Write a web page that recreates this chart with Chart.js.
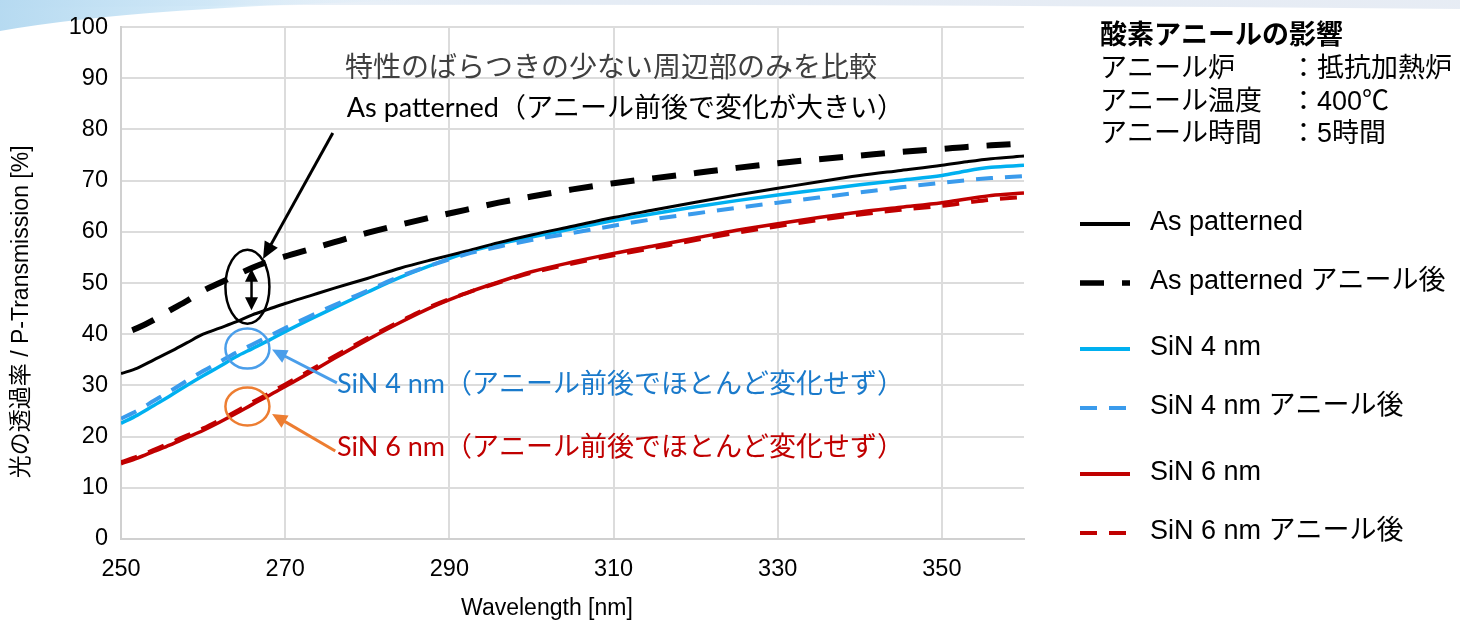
<!DOCTYPE html>
<html lang="ja">
<head>
<meta charset="utf-8">
<title>酸素アニールの影響</title>
<script src="https://cdn.jsdelivr.net/npm/chart.js@4.4.1/dist/chart.umd.min.js"></script>
<style>
  html, body { margin: 0; padding: 0; background: #ffffff; }
  #wrap { position: relative; width: 1460px; height: 633px; }
</style>
</head>
<body>
<div id="wrap"><canvas id="chart"></canvas></div>
<script>
// Wavelength grid (nm) shared by every series
const wavelengths = [250, 252, 254, 256, 258, 260, 262, 264, 266, 268, 270, 273, 276, 280, 284, 288,
                     292, 296, 300, 305, 310, 315, 320, 325, 330, 335, 340, 345, 350, 353, 356, 360];

// P-transmission (%) per sample
const asPatterned         = [32.3, 33.4, 35.0, 36.6, 38.3, 40.0, 41.2, 42.4, 43.8, 44.9, 46.0, 47.5, 49.0, 50.9, 52.9, 54.6,
                             56.2, 57.9, 59.4, 61.1, 62.8, 64.3, 65.8, 67.2, 68.5, 69.8, 71.0, 72.0, 73.0, 73.7, 74.3, 74.8];
const asPatternedAnnealed = [40.0, 41.2, 42.8, 44.7, 46.5, 48.5, 50.0, 51.5, 53.0, 54.2, 55.2, 56.6, 58.0, 59.8, 61.4, 62.9,
                             64.3, 65.7, 66.9, 68.3, 69.5, 70.5, 71.5, 72.5, 73.4, 74.2, 74.9, 75.6, 76.2, 76.6, 76.9, 77.3];
const sin4                = [22.6, 24.2, 26.1, 28.0, 30.0, 31.9, 33.7, 35.6, 37.2, 38.8, 40.5, 42.9, 45.2, 48.2, 51.1, 53.6,
                             55.9, 57.6, 59.0, 60.6, 62.2, 63.6, 64.9, 66.1, 67.2, 68.2, 69.2, 70.1, 71.0, 71.9, 72.6, 73.0];
const sin4Annealed        = [23.5, 25.1, 27.0, 28.9, 30.9, 32.8, 34.6, 36.4, 38.0, 39.6, 41.2, 43.5, 45.7, 48.5, 51.3, 53.6,
                             55.6, 57.1, 58.4, 59.8, 61.2, 62.5, 63.6, 64.7, 65.7, 66.7, 67.7, 68.7, 69.6, 70.1, 70.5, 70.9];
const sin6                = [14.7, 15.8, 17.1, 18.4, 19.8, 21.2, 22.8, 24.5, 26.3, 28.0, 29.8, 32.5, 35.3, 38.9, 42.3, 45.4,
                             48.0, 50.2, 52.2, 54.1, 55.8, 57.3, 58.8, 60.3, 61.6, 62.8, 63.9, 64.8, 65.7, 66.4, 67.1, 67.6];
const sin6Annealed        = [15.0, 16.1, 17.4, 18.8, 20.2, 21.6, 23.2, 24.9, 26.7, 28.4, 30.2, 32.9, 35.7, 39.2, 42.5, 45.6,
                             48.0, 50.1, 52.0, 53.8, 55.4, 56.9, 58.4, 59.8, 61.1, 62.3, 63.4, 64.3, 65.1, 65.7, 66.3, 66.8];

const seriesLabels = ['As patterned', 'As patterned アニール後', 'SiN 4 nm', 'SiN 4 nm アニール後', 'SiN 6 nm', 'SiN 6 nm アニール後'];

// Axis tick values
const xTickValues = [250, 270, 290, 310, 330, 350];
const yTickValues = [0, 10, 20, 30, 40, 50, 60, 70, 80, 90, 100];

// Condition box text
const infoTitle = '酸素アニールの影響';
const infoLabels = ['アニール炉', 'アニール温度', 'アニール時間'];
const infoValues = ['：抵抗加熱炉', '：400℃', '：5時間'];

// Callout text
const noteCompare = '特性のばらつきの少ない周辺部のみを比較';
const noteAsPatterned = 'As patterned（アニール前後で変化が大きい）';
const noteSin4 = 'SiN 4 nm（アニール前後でほとんど変化せず）';
const noteSin6 = 'SiN 6 nm（アニール前後でほとんど変化せず）';

const SANS = '"Liberation Sans", Arial, "Noto Sans CJK JP", sans-serif';
const NOTE = 'Lato, "Noto Sans CJK JP", sans-serif';

function series(label, values, color, width, dash, order, dashOffset) {
  return {
    label,
    data: wavelengths.map((x, i) => ({ x, y: values[i] })),
    borderColor: color,
    backgroundColor: color,
    borderWidth: width,
    borderDash: dash,
    borderDashOffset: dashOffset || 0,
    pointRadius: 0,
    pointHoverRadius: 0,
    cubicInterpolationMode: 'monotone',
    fill: false,
    order
  };
}

const datasets = [
  series(seriesLabels[0], asPatterned, '#000000', 3, [], 1),
  series(seriesLabels[1], asPatternedAnnealed, '#000000', 6, [24, 18], 0, 30),
  series(seriesLabels[2], sin4, '#00B0F0', 3.5, [], 1),
  series(seriesLabels[3], sin4Annealed, '#3A9BEC', 4, [17, 12], 0),
  series(seriesLabels[4], sin6, '#C00000', 3.5, [], 1),
  series(seriesLabels[5], sin6Annealed, '#C00000', 4, [17, 12], 0)
];

// Light header swoosh behind everything
const backdrop = {
  id: 'backdrop',
  beforeDraw(chart) {
    const { ctx, width } = chart;
    ctx.save();
    ctx.fillStyle = '#ffffff';
    ctx.fillRect(0, 0, width, chart.height);
    const band = ctx.createLinearGradient(0, 0, width, 0);
    band.addColorStop(0, 'rgba(214,230,244,0.2)');
    band.addColorStop(0.35, 'rgba(226,234,244,0.9)');
    band.addColorStop(1, 'rgba(228,234,243,0.9)');
    ctx.fillStyle = band;
    ctx.beginPath();
    ctx.moveTo(0, 0);
    ctx.lineTo(width, 0);
    ctx.lineTo(width, 9);
    ctx.quadraticCurveTo(900, 4, 300, 5);
    ctx.lineTo(0, 8);
    ctx.closePath();
    ctx.fill();
    const blue = ctx.createLinearGradient(0, 0, 420, 0);
    blue.addColorStop(0, 'rgba(178,216,240,0.95)');
    blue.addColorStop(0.5, 'rgba(200,228,246,0.8)');
    blue.addColorStop(1, 'rgba(225,238,248,0)');
    ctx.fillStyle = blue;
    ctx.beginPath();
    ctx.moveTo(0, 0);
    ctx.lineTo(440, 0);
    ctx.quadraticCurveTo(140, 6, 0, 31);
    ctx.closePath();
    ctx.fill();
    ctx.restore();
  }
};

function arrowHead(ctx, x0, y0, x1, y1, len, half) {
  const a = Math.atan2(y1 - y0, x1 - x0);
  ctx.beginPath();
  ctx.moveTo(x1, y1);
  ctx.lineTo(x1 - len * Math.cos(a) + half * Math.sin(a), y1 - len * Math.sin(a) - half * Math.cos(a));
  ctx.lineTo(x1 - len * Math.cos(a) - half * Math.sin(a), y1 - len * Math.sin(a) + half * Math.cos(a));
  ctx.closePath();
  ctx.fill();
}

function arrow(ctx, x0, y0, x1, y1, color, width, len, half) {
  const a = Math.atan2(y1 - y0, x1 - x0);
  ctx.strokeStyle = color;
  ctx.fillStyle = color;
  ctx.lineWidth = width;
  ctx.beginPath();
  ctx.moveTo(x0, y0);
  ctx.lineTo(x1 - (len - 2) * Math.cos(a), y1 - (len - 2) * Math.sin(a));
  ctx.stroke();
  arrowHead(ctx, x0, y0, x1, y1, len, half);
}

// Callouts: ellipses, arrows and notes anchored in data units
const callouts = {
  id: 'callouts',
  afterDatasetsDraw(chart) {
    const { ctx } = chart;
    const sx = chart.scales.x, sy = chart.scales.y;
    const px = v => sx.getPixelForValue(v);
    const py = v => sy.getPixelForValue(v);
    ctx.save();

    const rings = [
      { x: 265.4, y: 49.3, rx: 22, ry: 37, color: '#000000' },
      { x: 265.4, y: 37.2, rx: 22, ry: 20, color: '#4A9EEA' },
      { x: 265.4, y: 25.9, rx: 22, ry: 19, color: '#ED7D31' }
    ];
    rings.forEach(r => {
      ctx.strokeStyle = r.color;
      ctx.lineWidth = 2.5;
      ctx.beginPath();
      ctx.ellipse(px(r.x), py(r.y), r.rx, r.ry, 0, 0, Math.PI * 2);
      ctx.stroke();
    });

    // gap marker between the two As patterned curves
    const gx = px(265.9), gTop = py(52.8), gBot = py(44.7);
    ctx.strokeStyle = '#000000';
    ctx.fillStyle = '#000000';
    ctx.lineWidth = 2.5;
    ctx.beginPath();
    ctx.moveTo(gx, gTop + 10);
    ctx.lineTo(gx, gBot - 10);
    ctx.stroke();
    arrowHead(ctx, gx, gBot, gx, gTop, 13, 6.5);
    arrowHead(ctx, gx, gTop, gx, gBot, 13, 6.5);

    arrow(ctx, px(275.8), py(79.3), px(267.3), py(54.7), '#000000', 3, 17, 7.5);
    arrow(ctx, px(276.3), py(30.5), px(268.4), py(37.0), '#4A9EEA', 3, 15, 7);
    arrow(ctx, px(276.1), py(17.2), px(268.4), py(24.4), '#ED7D31', 3, 15, 7);

    ctx.textBaseline = 'middle';
    ctx.textAlign = 'left';
    ctx.font = '28px ' + NOTE;
    ctx.fillStyle = '#404040';
    ctx.fillText(noteCompare, px(277.3), py(92.0));
    ctx.font = '27px ' + NOTE;
    ctx.fillStyle = '#000000';
    ctx.fillText(noteAsPatterned, px(277.5), py(84.1));
    ctx.fillStyle = '#1A7ACB';
    ctx.fillText(noteSin4, px(276.3), py(30.2));
    ctx.fillStyle = '#C00000';
    ctx.fillText(noteSin6, px(276.3), py(18.0));
    ctx.restore();
  }
};

// Condition box and series key to the right of the plot
const sidePanel = {
  id: 'sidePanel',
  afterDraw(chart) {
    const { ctx, chartArea } = chart;
    const left = chartArea.right + 76;
    ctx.save();
    ctx.textBaseline = 'middle';
    ctx.textAlign = 'left';
    ctx.fillStyle = '#000000';
    ctx.font = 'bold 27px ' + SANS;
    ctx.fillText(infoTitle, left, 37);
    ctx.font = '27px ' + SANS;
    infoLabels.forEach((t, i) => {
      const y = 70 + i * 32.5;
      ctx.fillText(t, left, y);
      ctx.fillText(infoValues[i], left + 190, y);
    });

    const keyLeft = chartArea.right + 56;
    chart.data.datasets.forEach((ds, i) => {
      const y = 223 + i * 59 + Math.floor(i / 2) * 7;
      ctx.strokeStyle = ds.borderColor;
      ctx.lineWidth = Math.min(Math.max(ds.borderWidth, 4), 5.5);
      ctx.setLineDash(ds.borderDash || []);
      ctx.lineDashOffset = 0;
      ctx.beginPath();
      ctx.moveTo(keyLeft, y + 1);
      ctx.lineTo(keyLeft + 50, y + 1);
      ctx.stroke();
      ctx.setLineDash([]);
      ctx.fillStyle = '#000000';
      ctx.font = '27px ' + SANS;
      ctx.fillText(ds.label, keyLeft + 70, y);
    });
    ctx.restore();
  }
};

new Chart(document.getElementById('chart'), {
  type: 'line',
  data: { datasets },
  plugins: [backdrop, callouts, sidePanel],
  options: {
    responsive: true,
    maintainAspectRatio: false,
    animation: false,
    events: [],
    layout: { padding: { left: 0, top: 23, right: 436, bottom: 0 } },
    plugins: {
      legend: { display: false },
      tooltip: { enabled: false },
      title: { display: false }
    },
    scales: {
      x: {
        type: 'linear',
        min: 250,
        max: 360,
        afterBuildTicks: s => { s.ticks = xTickValues.map(value => ({ value })); },
        afterFit: s => { s.height = 94; },
        grid: { color: '#dcdcdc', lineWidth: 2, drawTicks: false },
        border: { display: true, color: '#d0d0d0', width: 2 },
        ticks: { color: '#000000', font: { family: SANS, size: 23.5 }, padding: 16, maxRotation: 0 },
        title: {
          display: true,
          text: 'Wavelength [nm]' + '\u00a0'.repeat(8),
          color: '#000000',
          font: { family: SANS, size: 23 },
          padding: { top: 0, bottom: 11 }
        }
      },
      y: {
        type: 'linear',
        min: 0,
        max: 100,
        afterBuildTicks: s => { s.ticks = yTickValues.map(value => ({ value })); },
        afterFit: s => { s.width = 121; },
        grid: { color: '#dcdcdc', lineWidth: 2, drawTicks: false },
        border: { display: true, color: '#d0d0d0', width: 2 },
        ticks: { color: '#000000', font: { family: SANS, size: 23.5 }, padding: 13 },
        title: {
          display: true,
          text: '光の透過率 / P-Transmission [%]' + '\u00a0'.repeat(9),
          color: '#000000',
          font: { family: SANS, size: 23 },
          padding: { top: 8, bottom: 0 }
        }
      }
    }
  }
});
</script>
</body>
</html>
